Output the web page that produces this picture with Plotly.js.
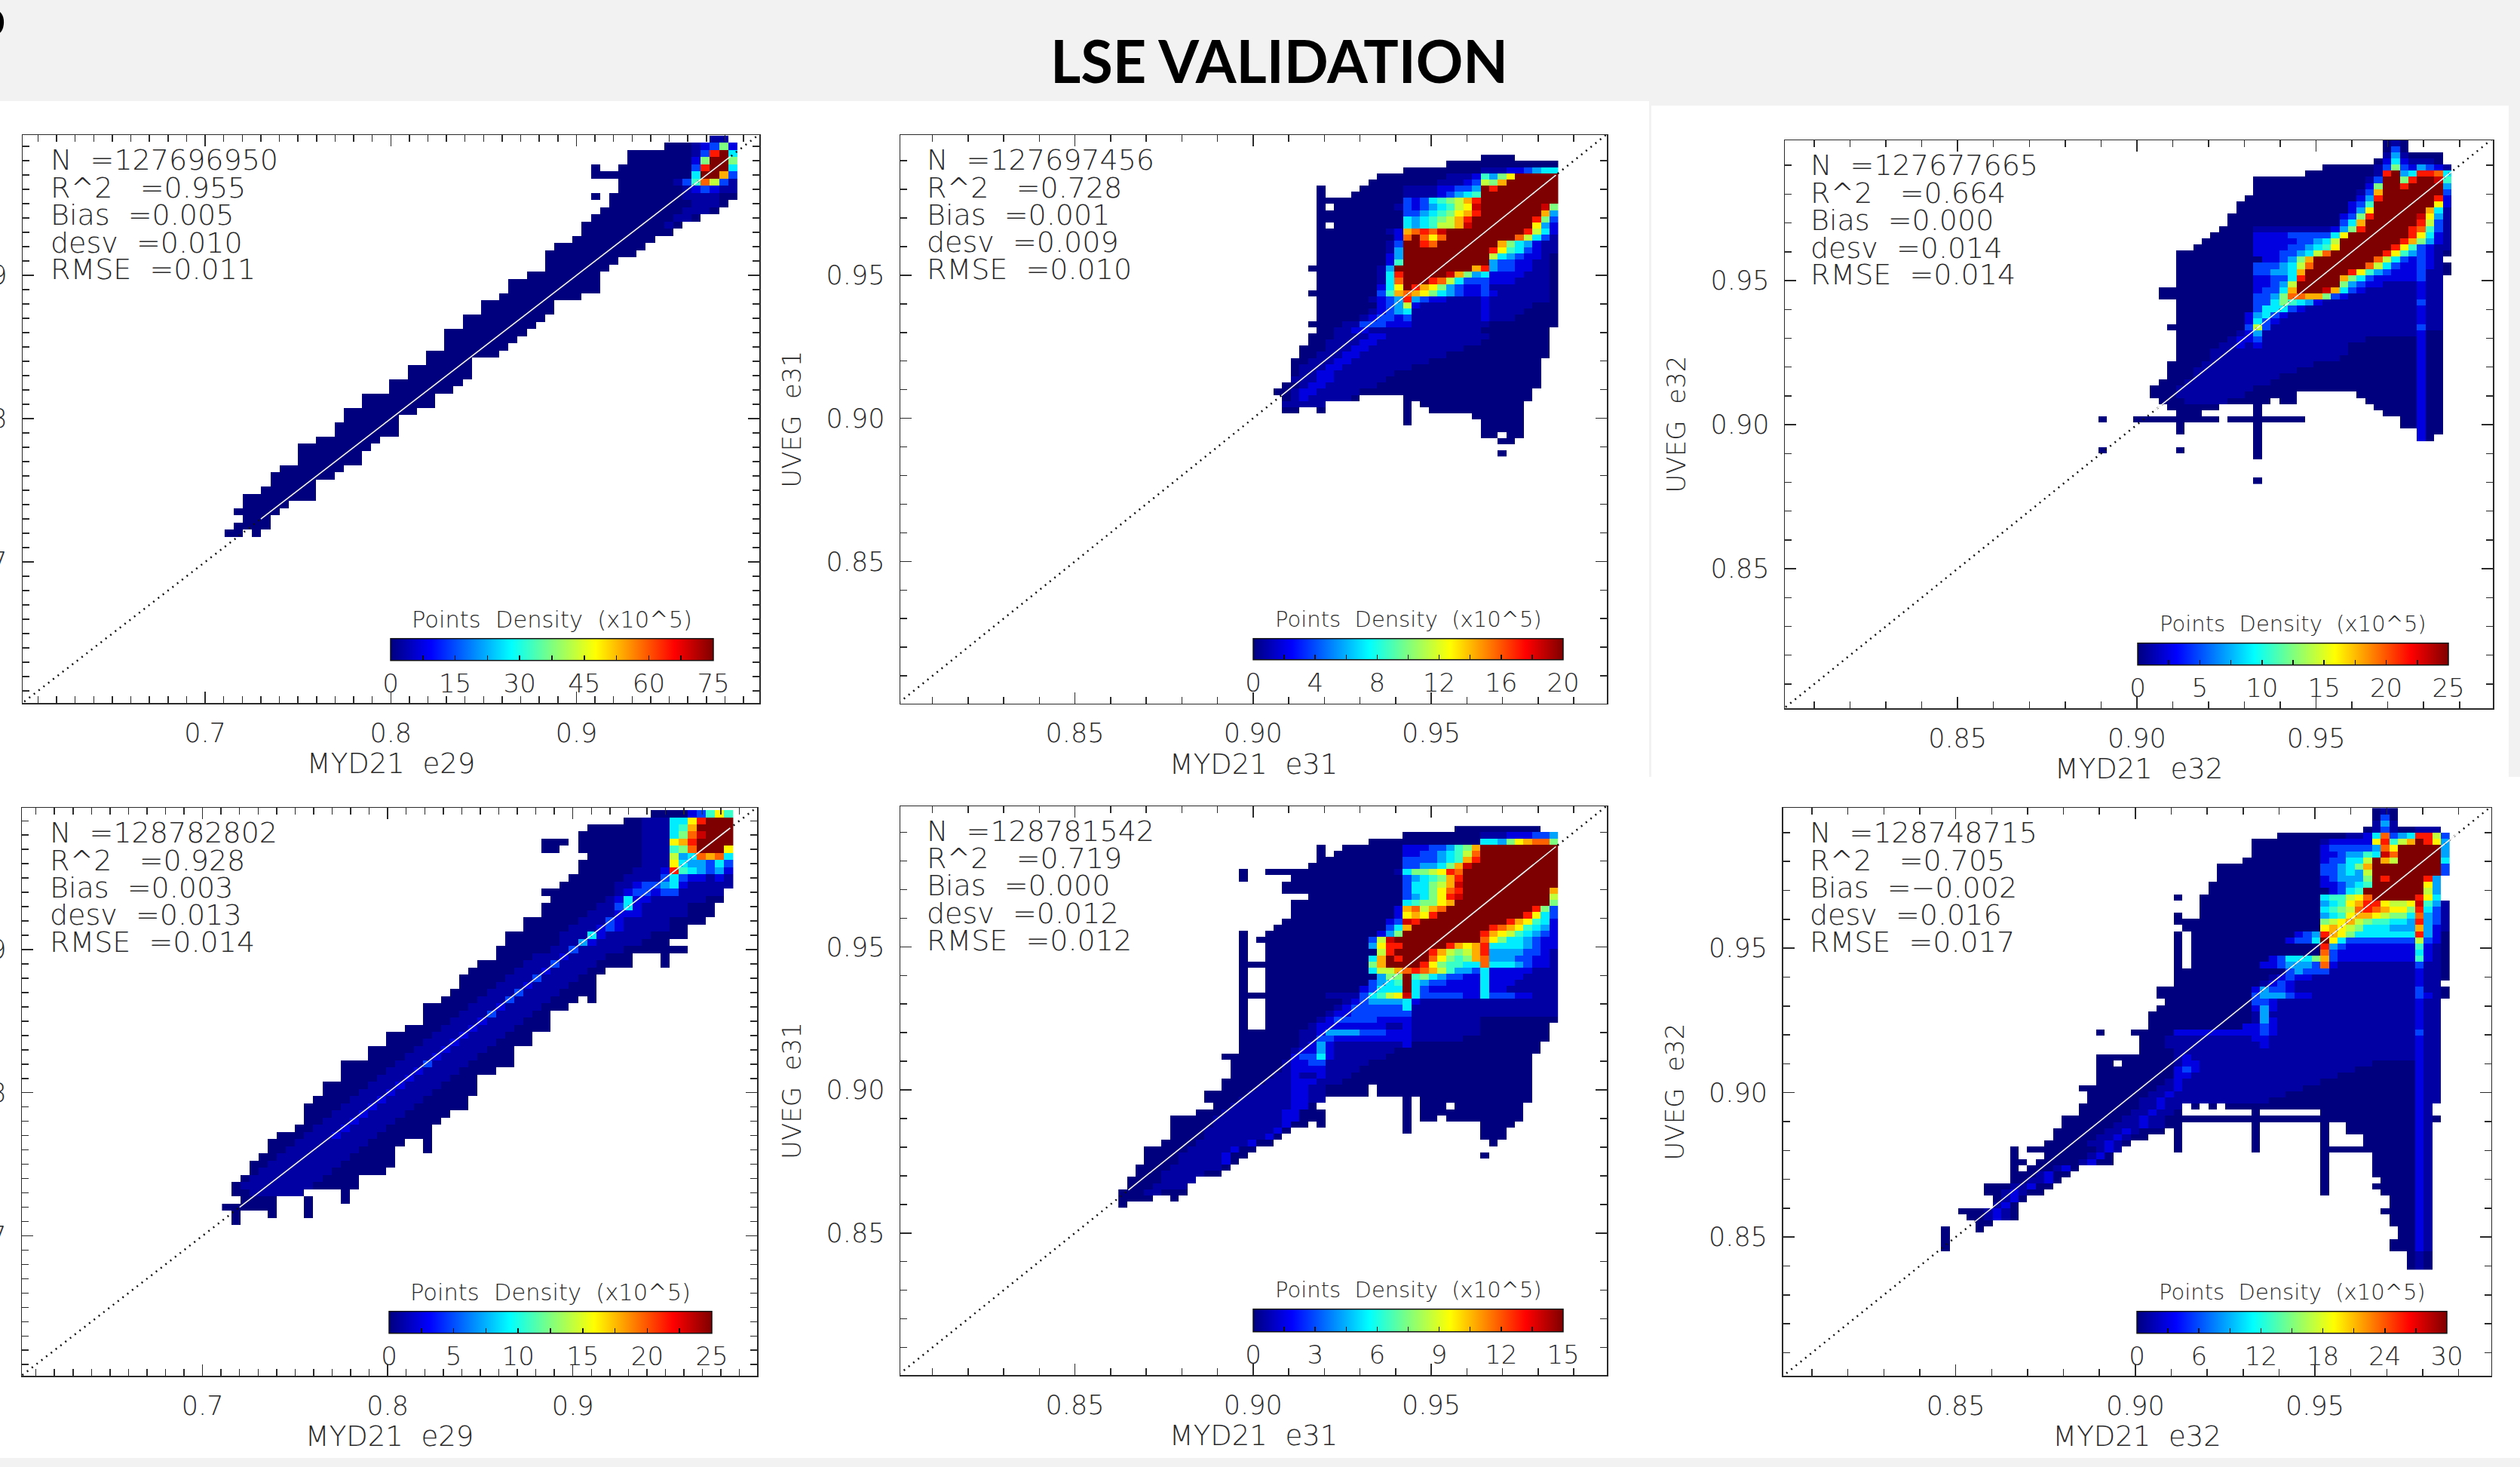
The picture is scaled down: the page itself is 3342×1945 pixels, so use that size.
<!DOCTYPE html>
<html><head><meta charset="utf-8">
<script src="https://cdn.plot.ly/plotly-3.0.1.min.js"></script>
<style>html,body{margin:0;padding:0;background:#fff;overflow:hidden}</style>
</head><body><div id="chart" style="width:3342px;height:1945px"></div>
<script>
// Density levels: row strings from top to bottom, tokens are <level><count>,
// '.' = empty cell, level 0..e = a step of that panel's colour bar (see levelFrac).
const rowsE29a = [".53 12",".48 03 1 2 3 7 2",".44 07 1 3 c e 5",".44 07 2 7 e e 7",".40 0 .2 08 3 c e e 5",".40 011 5 e e a 3",".43 06 1 3 6 b 8 3 1",".43 07 1 2 3 2 1 1",".40 0 . 08 14 02",".42 09 13 0",".41 09 13 0",".40 09 12 0",".39 09 1 0",".39 010",".38 09",".36 010",".35 010",".35 08",".35 07",".33 08",".31 010",".31 010",".30 09",".28 08",".28 08",".26 09",".26 08",".24 09",".24 08",".24 07",".22 08",".22 05",".20 07",".20 07",".18 08",".18 07",".15 08",".15 08",".13 08",".13 06",".12 07",".12 07",".10 07",".8 08",".8 07",".8 07",".6 07",".5 07",".5 05",".4 06",".2 08",".2 05",".1 05",".1 . 03",".1 04","02 . 0"];
const rowsE31a = [".25 04",".21 013",".16 09 13 22 3 4 5 5",".13 08 13 2 6 4 7 9 e5",".12 08 13 2 3 8 7 a e6",".6 0 .4 05 14 22 32 4 e c e7",".6 0 .3 06 14 2 3 4 5 6 e9",".6 010 3 2 3 5 6 7 8 a c e9",".6 0 . 07 1 3 2 3 4 5 6 8 9 d e7 d 7",".6 010 3 3 4 5 6 7 9 a c e7 a 4",".6 010 5 4 5 6 7 8 a c e e6 c 7 3",".6 0 . 08 5 4 5 6 8 8 a d e e6 9 4 2",".6 08 1 2 a b c b d e9 c 8 5 2",".6 09 2 b e b 9 b e8 b 8 5 3 1",".6 08 1 3 e2 c b e7 a 7 5 4 2 1 1",".6 08 1 4 e10 c 9 6 5 3 2 1 1",".6 08 2 4 e10 8 5 4 3 2 2 1 0",".6 08 2 6 e10 4 3 3 2 2 1 1 0",".5 08 1 4 e9 a c 4 3 3 2 2 1 1 0",".6 07 1 5 c e5 d a 7 4 5 2 2 2 2 1 1 1 0",".6 07 1 5 b e3 c b 8 5 3 3 3 2 2 2 1 1 1 1 0",".6 07 2 5 9 e c a 9 7 4 3 2 2 3 17 0",".5 08 3 6 a b a 9 7 5 4 3 2 2 3 2 16 0",".6 06 1 2 3 4 c 4 3 2 2 14 2 17 0",".6 07 2 3 4 8 2 17 2 15 03",".6 06 1 2 3 4 5 18 2 14 04",".6 05 1 2 3 3 2 3 18 2 13 05",".5 04 1 1 3 3 3 2 2 2 19 08",".6 02 1 1 2 2 113 08",".5 03 14 22 112 07",".5 02 14 22 112 08",".4 03 13 22 111 010",".4 02 13 22 110 012",".3 02 13 22 19 013",".3 0 13 22 18 015",".3 0 12 22 17 017",".3 13 22 16 018",".2 02 1 22 16 019",".1 02 1 22 15 020",".2 0 1 2 15 0 .5 015",".2 15 .9 0 . 012",".2 02 .2 0 .9 0 .2 011",".16 0 .7 06",".16 0 .8 05",".25 05",".25 02 . 02",".27 02","",".27 0"];
const rowsE32a = [".33 0 1 0",".33 0 3 0",".33 1 4 1 04",".32 0 2 5 2 1 1 1 0",".26 06 1 3 7 3 2 4 3 2 1",".24 08 1 c e 4 5 c c b 5",".18 013 1 3 e e 7 c e e d 6",".18 013 2 7 e e c e4 4",".18 012 1 3 a e7 3",".17 013 2 4 c e6 c 2",".16 013 2 3 6 e7 9 2",".16 013 2 4 9 e6 a 5 1",".15 013 2 3 7 c e5 d 9 4 1",".15 013 3 5 a e6 c 8 3 1",".14 04 19 2 4 7 c e5 c b 6 3 1",".13 05 24 35 5 9 e7 c 9 5 2 1",".12 06 25 32 4 5 8 e7 c a 7 4 2 1",".11 07 24 32 4 5 6 9 e6 c 9 6 3 2 1 1",".9 09 2 2 2 3 3 4 5 8 b e6 c 9 6 4 3 2 1 0",".9 010 2 2 3 4 7 a e7 b 8 5 3 2 3 2 1",".9 09 3 3 3 4 5 8 b e6 b 8 5 3 2 2 3 2 1 0",".9 09 3 3 4 4 5 a e5 c 9 6 4 3 2 2 2 3 1 1 0",".9 09 2 2 3 3 5 c e4 a 7 5 3 2 2 2 2 2 3 1 1",".9 09 2 2 3 4 8 e5 7 4 3 2 2 14 2 1 1",".7 011 2 3 3 5 a e3 d a 5 3 2 16 2 1 1",".7 011 3 3 4 7 b b a a 7 3 2 18 2 1 1",".9 09 3 3 5 7 6 5 4 2 111 3 1 1",".9 09 3 5 5 5 3 2 113 2 1 1",".9 08 2 4 5 3 2 115 2 1 1",".9 08 2 5 3 2 116 2 1 1",".8 09 3 8 3 117 3 1 1",".9 07 1 2 4 118 2 02",".9 06 1 2 2 3 112 06 2 02",".9 05 12 2 1 2 110 08 2 02",".9 04 116 08 2 02",".9 04 115 09 2 02",".8 04 113 012 2 02",".8 03 112 014 2 02",".8 03 110 016 2 02",".7 03 110 017 2 02",".6 03 19 019 2 02",".6 03 18 06 .7 07 2 02",".7 03 15 05 . 02 .8 06 2 02",".8 06 .4 0 .13 05 2 02",".9 03 .6 0 .14 04 2 02","0 .3 010 . 02 07 .11 02 2 02",".9 0 .8 0 .16 02 2 02",".9 0 .8 0 .18 2 02",".18 0 .18 2 0",".18 0","0 .8 0 .8 0",".18 0","","",""  ,".18 0"];
const rowsE29b = [".47 04 2 3 6 9 6",".44 02 13 5 5 9 c e3",".40 06 13 5 6 a e4",".39 07 13 5 7 b d e3",".35 03 . 07 13 9 a c e4",".35 02 .2 07 13 6 7 b e3 9",".40 06 13 8 4 5 b a b 5",".39 07 13 9 5 4 4 3 5 3",".39 06 13 2 c 6 5 4 3 4 2",".38 06 14 3 5 3 2 2 1 2 1",".37 06 12 2 3 3 4 5 2 15",".35 08 1 2 3 3 2 3 3 15",".36 06 1 2 5 2 2 1 15 02",".35 06 12 3 5 2 15 03",".35 05 13 23 15 03",".33 06 13 3 2 15 04",".33 05 13 2 3 2 15 02",".31 06 13 5 2 15 04",".31 06 12 4 2 15 03",".30 06 12 3 15 07",".30 04 13 2 14 03 .3 0",".28 05 13 3 14 04 .3 0",".27 05 13 2 14 02",".26 05 13 3 14 02",".26 04 13 2 14 03",".25 04 13 3 14 04",".24 04 13 3 14 03 . 0",".22 05 13 2 14 03",".22 04 13 3 14 02",".22 03 13 2 14 03",".20 04 13 2 14 04",".18 05 13 2 14 03",".18 04 13 2 14 04",".16 05 13 2 14 03",".16 04 13 2 14 04",".13 06 13 3 14 05",".13 05 13 2 14 04",".13 04 13 2 14 03",".11 05 13 2 14 04",".11 04 13 2 14 05",".10 04 13 2 14 05",".9 04 13 2 14 06",".9 03 13 2 14 05",".9 02 13 2 14 05",".8 02 13 2 14 05",".6 03 13 2 14 06",".5 03 13 1 14 04 .2 0",".5 02 13 1 14 04 .3 0",".4 02 13 1 14 05",".3 02 13 1 14 06",".3 0 13 1 14 06",".2 0 13 1 14 04",".1 0 13 1 14 05",".1 02 1 1 14 .4 0",".2 04 .3 0 .3 0","06 .3 0",".1 0 .3 0 .3 0",".1 0"];
const rowsE31b = [".39 010",".33 09 13 23 32 4",".29 013 5 5 4 7 9 a b b 7",".23 0 .2 07 2 2 2 3 3 4 6 7 a e9",".23 0 . 08 2 2 3 3 4 5 6 8 b e9",".23 010 3 3 3 3 4 5 6 a c e9",".22 011 3 3 4 4 5 7 a d e10",".14 0 .2 015 1 5 7 7 8 9 c b e11",".14 0 .5 013 3 4 5 6 7 a c e11",".19 014 3 5 5 7 8 a d e11",".19 014 3 5 5 7 9 b c e10 a",".22 011 3 4 5 7 9 c d e10 8",".20 013 5 6 7 7 9 a e11 7",".20 012 2 a b 8 a b e10 c 7 3",".20 012 2 9 a 9 c e10 c 9 5 3",".19 012 2 3 d c e10 c a 9 6 5 2",".18 013 3 5 a e9 c b a 9 6 5 4 2",".14 0 .2 013 2 4 7 e9 c a 9 8 6 5 4 3 2",".14 0 . 013 3 8 d e10 b 9 7 5 5 4 3 2 2",".14 0 .2 012 4 9 c c e5 c a 9 a c 5 5 5 5 4 3 2 2",".14 0 .2 013 8 c e4 c a 8 7 8 a c 4 4 4 4 3 3 2 1",".14 0 .2 012 5 a e c e3 b 9 7 6 7 a b 4 4 4 3 3 2 2 1",".14 015 7 a e4 c 9 7 6 6 5 5 b 5 5 5 4 3 2 2 1",".14 0 .2 012 5 8 8 a b c b a 8 6 4 4 3 5 2 2 2 2 2 1 1 1",".14 0 .2 013 4 7 7 e 6 7 5 4 3 3 2 2 5 2 2 2 2 1 1 1 1",".14 0 .2 012 3 4 5 6 e 5 4 3 3 2 2 2 2 5 2 2 2 15",".14 0 .2 011 2 3 5 5 5 e 5 3 26 5 2 2 16",".14 010 14 3 5 6 8 9 d 5 3 3 3 3 3 2 2 5 3 3 3 2 2 1 1 1",".14 0 .2 09 1 2 3 4 4 4 4 5 2 116",".14 0 .2 08 1 2 36 5 117",".14 0 .2 07 1 22 37 117",".14 0 .2 06 1 2 35 24 18 09",".14 0 .2 05 1 28 12 2 18 08",".14 07 12 2 44 33 23 18 08",".14 07 12 32 29 16 010",".14 07 1 2 4 2 18 2 015",".14 06 1 22 4 2 17 017",".12 08 2 32 5 2 16 017",".13 06 1 22 32 15 019",".13 06 1 24 14 020",".13 05 12 2 12 2 13 021",".12 05 13 23 13 022",".12 04 14 22 12 05 . 018",".10 05 15 22 12 05 . 018",".10 04 16 22 12 .9 0 . 013",".11 02 17 2 2 0 .10 0 . 03 . 08",".9 03 17 22 03 .9 0 . 012",".6 05 18 22 03 .9 0 . 02 . 04 05",".6 05 18 2 02 . 0 .9 0 .8 04",".6 04 18 2 0 .13 0 .8 03",".6 04 17 2 0 .23 03",".5 04 16 2 0 0 .25 0",".3 05 15 2 02",".3 04 15 2 02 .27 0",".3 04 15 2 0",".2 04 15 1 0",".2 03 15 0 0",".1 04 14",".1 03 14","03 12 03","04 .2 0","0"];
const rowsE32b = [".51 0 1 0",".51 0 3 0",".51 1 4 1",".50 0 1 3 1 0 0 1 1 1",".40 08 1 1 2 5 b 3 4 5 c c 8 3",".37 08 1 25 9 c 6 8 a e c 9 4",".37 08 2 35 4 b 9 e5 4",".37 08 2 2 3 4 4 6 5 d b e5 4",".36 09 2 3 3 5 5 8 e a 8 e5 5",".33 012 3 3 4 5 7 a e8 3",".33 012 3 3 4 5 4 8 e8 3",".33 012 2 3 4 4 4 7 e c e3 e c 4",".32 013 2 2 3 4 5 6 e6 9 4",".32 014 2 3 5 6 e7 8 4",".28 0 .2 014 5 6 6 8 9 b e5 c 9 5",".31 014 4 5 6 9 a c c 9 8 8 9 d 6 4 1",".31 014 5 6 7 8 b c b a 9 9 7 c 5 3 1",".28 0 .2 014 4 5 6 9 a a 9 8 7 7 5 b 4 3 1",".28 017 7 8 9 a 8 7 6 6 5 5 4 c 4 3 1",".29 016 9 a 9 8 7 5 5 5 4 4 4 a 4 2 1",".28 0 . 012 2 3 4 c a 9 7 57 c 4 2 0",".28 0 . 011 2 3 3 5 e 9 5 38 8 3 2 0",".28 0 . 015 c 4 3 28 6 2 1 0",".28 0 . 015 b 3 2 28 5 2 1 0",".28 0 . 09 2 3 5 5 5 7 a 3 29 6 2 1 0",".28 0 . 08 2 2 3 4 4 4 3 b 2 19 3 1 1 0",".28 013 3 4 3 3 3 110 2 1 1 0",".28 011 1 2 3 2 2 112 2 1 1 0",".28 010 1 2 3 2 114 2 1 1",".26 011 2 4 3 3 2 114 3 1 1 0",".26 011 3 4 4 4 3 2 2 112 3 2 1 0",".27 010 3 3 2 116 2 1 1",".26 011 2 4 2 116 2 1 1",".25 012 1 4 1 116 2 1 1",".25 012 1 4 2 116 2 1 1",".25 011 2 2 3 2 116 2 1 1",".19 0 .3 05 210 3 2 116 3 1 1",".24 03 110 22 117 2 1 1",".24 03 111 2 117 2 1 1",".24 04 128 2 1 1",".19 09 1 2 126 2 1 1",".19 02 . 06 1 22 120 05 2 1 1",".19 09 2 3 2 118 07 2 1 1",".19 09 2 2 1 116 09 2 1 1",".19 08 1 2 1 115 011 2 1 1",".17 09 12 2 114 013 2 1 1",".18 07 12 2 113 015 2 1 1",".18 06 12 2 112 017 2 1 1",".17 07 12 2 12 . 0 . 0 . 022 2 1",".17 06 12 2 12 0 .8 0 .7 011 2 1",".15 07 12 2 12 029 2 1 0",".15 06 13 2 12 02 .8 0 .7 0 .2 08 2 1",".14 06 12 2 1 03 . 0 .8 0 .7 0 .2 08 2 1",".14 05 12 2 1 02 .3 0 .8 0 .7 0 .4 06 2 1",".13 05 12 2 1 0 .5 0 .8 0 .7 0 .4 06 2 1",".9 0 . 08 1 2 1 .6 0 .8 0 .7 05 06 2 1",".9 0 .3 05 1 2 0 .24 0 .5 05 2 1",".9 02 . 05 1 2 02 .24 0 .5 05 2 1",".9 0 . 03 1 2 0 .28 0 .5 05 2 1",".9 03 1 2 02 .29 0 .5 05 2 1",".9 02 12 2 0 .30 0 .6 04 2 1",".6 03 12 2 02 .31 0 .5 05 2 1",".6 02 1 2 1 02 .32 0 .6 04 2 1",".7 0 1 2 0 .42 03 2 1",".7 1 2 0 .43 03 2 1",".3 03 1 2 1 0 .42 04 2 1",".4 02 1 2 1 0 .43 03 2 1",".5 02 .46 03 2 1",".1 0 .3 0 .48 02 2 1",".1 0 .52 02 2 1",".1 0 .51 03 2 1",".1 0 .51 03 2 1",".55 0 1 0",".55 0 1 0",".55 0 1 0"];

const levelFrac = [0,0.035,0.095,0.19,0.286,0.357,0.43,0.5,0.57,0.643,0.714,0.786,0.857,0.93,1];
const panelRows = [rowsE29a, rowsE31a, rowsE32a, rowsE29b, rowsE31b, rowsE32b];
const cbMax = [75, 20, 25, 25, 15, 30];
const cbStep = [15, 4, 5, 5, 3, 6];
const xTitles = ["MYD21  e29","MYD21  e31","MYD21  e32","MYD21  e29","MYD21  e31","MYD21  e32"];
const yTitles = [null,"UVEG  e31","UVEG  e32",null,"UVEG  e31","UVEG  e32"];
const statN = ["127696950","127697456","127677665","128782802","128781542","128748715"];
const statR2 = ["0.955","0.728","0.664","0.928","0.719","0.705"];
const statBias = ["0.005","0.001","0.000","0.003","0.000","\u22120.002"];
const statDesv = ["0.010","0.009","0.014","0.013","0.012","0.016"];
const statRmse = ["0.011","0.010","0.014","0.014","0.012","0.017"];
// bin grids: left edge, bin width, top edge, bin height
const gridX0 = [0.7105, 0.90332, 0.8893, 0.7105, 0.8622, 0.8435];
const gridDx = [0.00493, 0.00242, 0.0024, 0.00493, 0.00242, 0.0024];
const gridTop = [0.9975, 0.9921, 0.9988, 0.9975, 0.9922, 0.9985];
const gridDy = [0.005, 0.00215, 0.00213, 0.005, 0.00215, 0.00213];
// white 1:1 line extent
const lineLo = [0.73, 0.908, 0.905, 0.72, 0.865, 0.855];
const lineHi = [0.983, 0.985, 0.988, 0.985, 0.985, 0.99];
// axis ranges and pixel frames [left,right,top,bottom]
const xRange = [[0.6017,0.9985],[0.801,0.9993],[0.8018,0.9993],[0.6024,0.9995],[0.801,0.9993],[0.8019,0.999]];
const yRange = [[0.6016,0.998],[0.8004,0.999],[0.8016,0.9987],[0.6022,0.9991],[0.8004,0.9991],[0.802,0.9986]];
const frames = [[30,1007,179,932],[1194,2131,179,932.5],[2367,3306,186,939],[29,1004,1071,1824],[1194,2131,1069,1823],[2364.5,3303.5,1071,1824]];
const cbars = [[518,946,849,877.5],[1662,2073,849,877],[2835,3247,855,884],[516,943.5,1741,1770],[1662,2073,1738,1768],[2834,3245,1741,1770]];
const statX = [66,1228,2400,65,1228,2399];
const statY = [[212,249,285,322,357],[212,249,285,321,357],[219,256,292,329,364],[1104,1141,1177,1213,1249],[1102,1138,1174,1211,1247],[1104,1141,1177,1213,1249]];
const W = 3342, H = 1945;
const jet = [[0,'#00007f'],[0.125,'#0000ff'],[0.375,'#00ffff'],[0.5,'#7fff7f'],[0.635,'#ffff00'],[0.88,'#ff0000'],[1,'#7f0000']];
const ink = '#2a2a2a';
const thin = {family:'"DejaVu Sans", sans-serif', color:ink, weight:200};

function decode(rows, zmax){
  const cells = rows.map(r=>{
    const out=[];
    r.split(/\s+/).filter(Boolean).forEach(t=>{
      const n = t.length>1 ? parseInt(t.slice(1),10) : 1;
      for(let i=0;i<n;i++) out.push(t[0]==='.' ? null : levelFrac[parseInt(t[0],16)]*zmax);
    });
    return out;
  });
  const w = Math.max(...cells.map(c=>c.length));
  cells.forEach(c=>{while(c.length<w) c.push(null);});
  return cells;
}

const traces=[]; const annotations=[]; const layout={
  width:W,height:H,margin:{l:0,r:0,t:0,b:0},paper_bgcolor:'#fff',plot_bgcolor:'#fff',showlegend:false,
  annotations,
  shapes:[
    [0,2190,0,134],[2190,3342,0,140],[3327,3342,140,1030],[2187,2190,134,1030],[0,3342,1933,1945]
  ].map(b=>({type:'rect',xref:'paper',yref:'paper',x0:b[0]/W,x1:b[1]/W,y0:1-b[2]/H,y1:1-b[3]/H,fillcolor:'#f2f2f2',line:{width:0},layer:'below'}))
};

panelRows.forEach((rows,i)=>{
  const n=i+1, xa='x'+(n>1?n:''), ya='y'+(n>1?n:'');
  const f=frames[i], c=cbars[i], big=i%3===0;
  const z=decode(rows,cbMax[i]);
  const xs=z[0].map((_,k)=>gridX0[i]+gridDx[i]*(k+0.5));
  const ys=z.map((_,k)=>gridTop[i]-gridDy[i]*(k+0.5));
  const vals=[],txt=[];
  for(let v=0;v<=cbMax[i]+1e-9;v+=cbStep[i]/2){vals.push(v);txt.push(Math.abs(v/cbStep[i]-Math.round(v/cbStep[i]))<1e-9?String(Math.round(v)):'');}
  traces.push({type:'heatmap',x:xs,y:ys,z:z,xaxis:xa,yaxis:ya,zmin:0,zmax:cbMax[i],colorscale:jet,hoverongaps:false,
    colorbar:{orientation:'h',lenmode:'pixels',len:c[1]-c[0],thicknessmode:'pixels',thickness:c[3]-c[2],
      x:c[0]/W,xanchor:'left',y:1-(c[3]+56)/H,yanchor:'bottom',xpad:0,ypad:0,outlinecolor:'#111',outlinewidth:1.5,
      tickmode:'array',tickvals:vals,ticktext:txt,ticks:'inside',ticklen:7,tickcolor:'#111',tickwidth:1.5,
      tickfont:Object.assign({size:34},thin)}});
  traces.push({type:'scatter',mode:'lines',x:[0.6,1],y:[0.6,1],xaxis:xa,yaxis:ya,line:{color:'#111',width:2.5,dash:'2px,6px'},hoverinfo:'skip'});
  traces.push({type:'scatter',mode:'lines',x:[lineLo[i],lineHi[i]],y:[lineLo[i],lineHi[i]],xaxis:xa,yaxis:ya,line:{color:'#f4f4f4',width:1.6},hoverinfo:'skip'});
  const common={showgrid:false,zeroline:false,showline:true,linecolor:ink,linewidth:1.5,mirror:'allticks',
    ticks:'inside',ticklen:15,tickwidth:1.5,tickcolor:ink,
    tickfont:Object.assign({size:35},thin),
    minor:{dtick:0.01,ticklen:9,ticks:'inside',tickwidth:1.5,tickcolor:ink},
    dtick:big?0.1:0.05,tick0:big?0.7:0.85,tickformat:big?'.1f':'.2f'};
  layout['xaxis'+(n>1?n:'')]=Object.assign({},common,{domain:[f[0]/W,f[1]/W],range:xRange[i],anchor:ya,ticklabelstandoff:8,
    title:{text:xTitles[i],font:Object.assign({size:37},thin),standoff:5}});
  layout['yaxis'+(n>1?n:'')]=Object.assign({},common,{domain:[1-f[3]/H,1-f[2]/H],range:yRange[i],anchor:xa,ticklabelstandoff:12,
    title:yTitles[i]?{text:yTitles[i],font:Object.assign({size:34},thin),standoff:22}:undefined});
  const lines=['N  ='+statN[i],'R^2   ='+statR2[i],'Bias  ='+statBias[i],'desv  ='+statDesv[i],'RMSE  ='+statRmse[i]];
  lines.forEach((t,k)=>annotations.push({xref:'paper',yref:'paper',x:statX[i]/W,y:1-statY[i][k]/H,xanchor:'left',yanchor:'middle',
    text:t,showarrow:false,align:'left',borderpad:0,font:Object.assign({size:38},thin)}));
  annotations.push({xref:'paper',yref:'paper',x:(c[0]+c[1])/2/W,y:1-(c[2]-28)/H,xanchor:'center',yanchor:'middle',
    text:'Points  Density  (x10^5)',showarrow:false,borderpad:0,font:Object.assign({size:big?30.5:29},thin)});
});
annotations.push({xref:'paper',yref:'paper',x:1696/W,y:1-81/H,xanchor:'center',yanchor:'middle',text:'LSE VALIDATION',showarrow:false,
  font:{family:'Lato, sans-serif',size:77.5,color:'#000',weight:700}});
annotations.push({xref:'paper',yref:'paper',x:8/W,y:1-22/H,xanchor:'right',yanchor:'middle',text:'b',showarrow:false,borderpad:0,
  font:{family:'Lato, sans-serif',size:64,color:'#000',weight:700}});
Plotly.newPlot('chart',traces,layout,{displayModeBar:false,staticPlot:true});
</script></body></html>
